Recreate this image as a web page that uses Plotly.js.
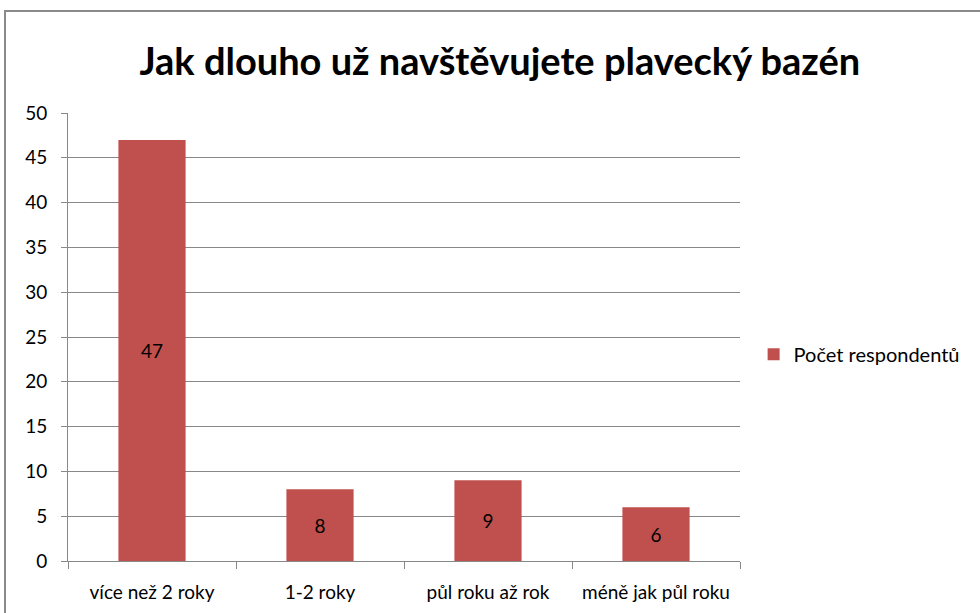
<!DOCTYPE html>
<html><head><meta charset="utf-8">
<script src="https://cdn.plot.ly/plotly-3.0.1.min.js"></script>
<style>
html,body{margin:0;padding:0;background:#fff;overflow:hidden;}
#frame{position:absolute;left:4px;top:10px;width:1100px;height:800px;border:2px solid #8a8a8a;box-sizing:border-box;pointer-events:none;z-index:5;}
#chart{position:absolute;left:0;top:0;width:980px;height:613px;}
</style></head>
<body>
<div id="chart"></div>
<div id="frame"></div>
<script>
const categories = ["více než 2 roky", "1-2 roky", "půl roku až rok", "méně jak půl roku"];
const values = [47, 8, 9, 6];
const seriesName = "Počet respondentů";
const chartTitle = "Jak dlouho už navštěvujete plavecký bazén";
const yTicks = [0, 5, 10, 15, 20, 25, 30, 35, 40, 45, 50];

const font = "Lato, 'Open Sans', sans-serif";
Plotly.newPlot("chart", [{
  type: "bar",
  x: categories,
  y: values,
  name: seriesName,
  marker: {color: "#C0504D"},
  text: values.map(String),
  textposition: "inside",
  insidetextanchor: "middle",
  textfont: {family: font, size: 19, color: "#000"},
  showlegend: true,
  cliponaxis: false
}], {
  width: 980, height: 613,
  margin: {l: 68, r: 240, t: 113, b: 52},
  paper_bgcolor: "#fff", plot_bgcolor: "#fff",
  bargap: 0.6,
  title: {text: "<b>" + chartTitle + "</b>", font: {family: font, size: 38, color: "#000"}, xref: "container", x: 0.51, xanchor: "center", yref: "container", y: 0.9, yanchor: "middle"},
  xaxis: {
    automargin: false,
    showline: true, linecolor: "#888", linewidth: 1,
    ticks: "outside", ticklen: 7, tickcolor: "#888", tickson: "boundaries",
    tickfont: {family: font, size: 19, color: "#000"},
    ticklabelstandoff: 14,
    showgrid: false
  },
  yaxis: {
    automargin: false,
    range: [0, 50], tickvals: yTicks,
    showline: true, linecolor: "#888", linewidth: 1,
    ticks: "outside", ticklen: 6, tickcolor: "#888",
    gridcolor: "#888", gridwidth: 1,
    tickfont: {family: font, size: 19, color: "#000"},
    ticklabelstandoff: 10,
    zeroline: false
  },
  legend: {xref: "container", yref: "container", x: 0.769, xanchor: "left", y: 0.422, yanchor: "middle", font: {family: font, size: 20, color: "#000"}, itemwidth: 30}
}, {staticPlot: true});
</script>
</body></html>
